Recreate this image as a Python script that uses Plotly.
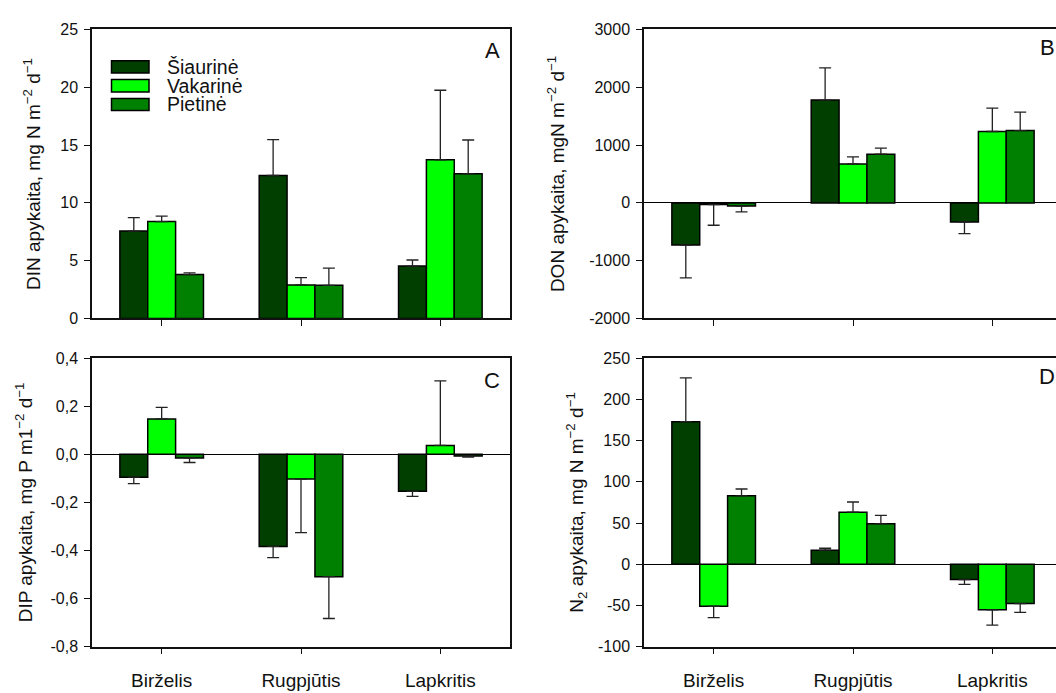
import plotly.graph_objects as go

# Categories and series
months = ["Birželis", "Rugpjūtis", "Lapkritis"]
series = ["Šiaurinė", "Vakarinė", "Pietinė"]
colors = ["#003f00", "#00ff00", "#008000"]

# DIN flux (A)
din_siaurine = [7.56, 12.37, 4.53]
din_vakarine = [8.38, 2.90, 13.72]
din_pietine = [3.80, 2.87, 12.51]
din_siaurine_se = [1.16, 3.10, 0.53]
din_vakarine_se = [0.48, 0.64, 6.02]
din_pietine_se = [0.14, 1.49, 2.93]

# DON flux (B)
don_siaurine = [-730, 1779, -331]
don_vakarine = [-30, 673, 1235]
don_pietine = [-56, 842, 1251]
don_siaurine_se = [566, 555, 202]
don_vakarine_se = [357, 124, 404]
don_pietine_se = [101, 106, 320]

# DIP flux (C)
dip_siaurine = [-0.095, -0.383, -0.154]
dip_vakarine = [0.147, -0.103, 0.037]
dip_pietine = [-0.015, -0.509, -0.007]
dip_siaurine_se = [0.027, 0.047, 0.021]
dip_vakarine_se = [0.048, 0.223, 0.269]
dip_pietine_se = [0.019, 0.174, 0.005]

# N2 flux (D)
n2_siaurine = [173, 17, -18.6]
n2_vakarine = [-51, 63.2, -55.3]
n2_pietine = [83, 49, -47.8]
n2_siaurine_se = [53, 2.4, 5.9]
n2_vakarine_se = [13.8, 12.3, 18.6]
n2_pietine_se = [8.3, 10.3, 10.7]

# Y tick labels
din_ticks = [0, 5, 10, 15, 20, 25]
din_ticktext = ["0", "5", "10", "15", "20", "25"]
don_ticks = [-2000, -1000, 0, 1000, 2000, 3000]
don_ticktext = ["-2000", "-1000", "0", "1000", "2000", "3000"]
dip_ticks = [-0.8, -0.6, -0.4, -0.2, 0.0, 0.2, 0.4]
dip_ticktext = ["-0,8", "-0,6", "-0,4", "-0,2", "0,0", "0,2", "0,4"]
n2_ticks = [-100, -50, 0, 50, 100, 150, 200, 250]
n2_ticktext = ["-100", "-50", "0", "50", "100", "150", "200", "250"]

W, H = 1056, 693
FONT = "Liberation Sans, Arial, sans-serif"
INK = "#111111"


def fx(px):
    return px / W


def fy(py):
    return 1 - py / H


panels = [
    dict(vals=[din_siaurine, din_vakarine, din_pietine],
         errs=[din_siaurine_se, din_vakarine_se, din_pietine_se], ax=""),
    dict(vals=[don_siaurine, don_vakarine, don_pietine],
         errs=[don_siaurine_se, don_vakarine_se, don_pietine_se], ax="2"),
    dict(vals=[dip_siaurine, dip_vakarine, dip_pietine],
         errs=[dip_siaurine_se, dip_vakarine_se, dip_pietine_se], ax="3"),
    dict(vals=[n2_siaurine, n2_vakarine, n2_pietine],
         errs=[n2_siaurine_se, n2_vakarine_se, n2_pietine_se], ax="4"),
]

fig = go.Figure()
for p in panels:
    for i, name in enumerate(series):
        v = p["vals"][i]
        e = p["errs"][i]
        up = [ei if vi >= 0 else 0 for vi, ei in zip(v, e)]
        down = [0 if vi >= 0 else ei for vi, ei in zip(v, e)]
        fig.add_trace(go.Bar(
            x=months, y=v, name=name, showlegend=False,
            marker=dict(color=colors[i], line=dict(color="#000000", width=1.5)),
            error_y=dict(type="data", symmetric=False, array=up, arrayminus=down,
                         color="#222222", thickness=1.3, width=6),
            xaxis="x" + p["ax"], yaxis="y" + p["ax"],
        ))

left_dom = [fx(92), fx(510)]
right_dom = [fx(644), 1.0]
top_dom = [fy(318.3), fy(22)]
bot_dom = [fy(654.7), fy(359)]
cat_px = (510 - 92) / 3.0
right_range = [-0.5, -0.5 + (W - 644) / cat_px]


def xaxis(dom, yref, rng, labels):
    return dict(domain=dom, anchor=yref, range=rng, type="category",
                showline=True, linecolor=INK, linewidth=1.5, mirror=True,
                ticks="outside", ticklen=6, tickwidth=1.3, tickcolor=INK,
                showgrid=False, zeroline=False, showticklabels=labels,
                tickfont=dict(size=19, color=INK, family=FONT),
                ticklabelstandoff=10)


def yaxis(dom, xref, rng, tv, tt, title, standoff, mirror, zero):
    return dict(domain=dom, anchor=xref, range=rng,
                tickvals=tv, ticktext=tt,
                showline=True, linecolor=INK, linewidth=1.5, mirror=mirror,
                ticks="outside", ticklen=6, tickwidth=1.3, tickcolor=INK,
                showgrid=False, zeroline=zero, zerolinecolor="#000000",
                zerolinewidth=1.2, ticklabelstandoff=3,
                tickfont=dict(size=16, color=INK, family=FONT),
                title=dict(text=title, standoff=standoff,
                           font=dict(size=19, color=INK, family=FONT)))


fig.update_layout(
    width=W, height=H,
    margin=dict(l=0, r=0, t=0, b=0),
    paper_bgcolor="white", plot_bgcolor="white",
    font=dict(family=FONT, color=INK),
    barmode="group", bargap=0.4, bargroupgap=0,
    xaxis=xaxis(left_dom, "y", [-0.5, 2.5], False),
    xaxis2=xaxis(right_dom, "y2", right_range, False),
    xaxis3=xaxis(left_dom, "y3", [-0.5, 2.5], True),
    xaxis4=xaxis(right_dom, "y4", right_range, True),
    yaxis=yaxis(top_dom, "x", [0, 25], din_ticks, din_ticktext,
                "DIN apykaita, mg N m<sup>−2</sup> d<sup>−1</sup>", 15, True, False),
    yaxis2=yaxis(top_dom, "x2", [-2000, 3000], don_ticks, don_ticktext,
                 "DON apykaita, mgN m<sup>−2</sup> d<sup>−1</sup>", 19, False, True),
    yaxis3=yaxis(bot_dom, "x3", [-0.8, 0.4], dip_ticks, dip_ticktext,
                 "DIP apykaita, mg P m1<sup>−2</sup> d<sup>−1</sup>", 13, True, True),
    yaxis4=yaxis(bot_dom, "x4", [-100, 250], n2_ticks, n2_ticktext,
                 "N<sub>2</sub> apykaita, mg N m<sup>−2</sup> d<sup>−1</sup>", 9, False, True),
)

# Panel letters
letters = [("A", 492, 43.5), ("B", 1047, 40), ("C", 491.5, 381.5), ("D", 1047, 378)]
for txt, lx, ly in letters:
    fig.add_annotation(text=txt, x=fx(lx), y=fy(ly), xref="paper", yref="paper",
                       xanchor="center", yanchor="middle", showarrow=False,
                       font=dict(size=22, color=INK, family=FONT))

# Legend drawn inside panel A
legend_rows = [(54, 66.7), (73.3, 86), (92.7, 105)]
for (y0, y1), name, col in zip(legend_rows, series, colors):
    fig.add_shape(type="rect", xref="paper", yref="paper",
                  x0=fx(111.5), x1=fx(149), y0=fy(y1), y1=fy(y0),
                  fillcolor=col, line=dict(color="#000000", width=1.5))
    fig.add_annotation(text=name, x=fx(165), y=fy((y0 + y1) / 2), xref="paper",
                       yref="paper", xanchor="left", yanchor="middle",
                       showarrow=False, font=dict(size=19.5, color=INK, family=FONT))

fig.write_html("out.html")
